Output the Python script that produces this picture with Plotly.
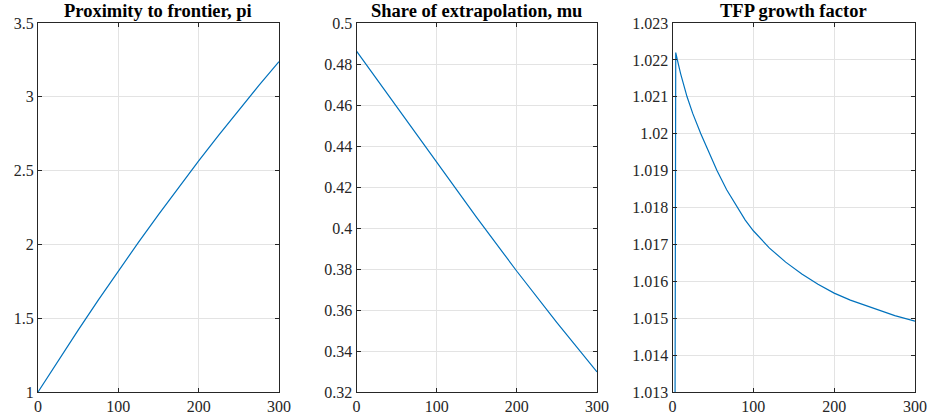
import plotly.graph_objects as go
from plotly.subplots import make_subplots

# ---- data ----
pi_t = [0, 25, 50, 75, 100, 125, 150, 175, 200, 225, 250, 275, 300]
pi_vals = [1.0, 1.212, 1.419, 1.622, 1.820, 2.014, 2.202, 2.387, 2.566, 2.741, 2.911, 3.077, 3.238]

mu_t = [0, 50, 100, 150, 200, 250, 300]
mu_vals = [0.4863, 0.4593, 0.4321, 0.4051, 0.3789, 0.3539, 0.3298]

tfp_t = [2, 4, 6, 10, 18, 25, 35, 45, 55, 67, 80, 90, 100, 110, 120, 140, 160, 180, 200,
         220, 250, 275, 300]
tfp_vals = [1.000, 1.0222, 1.0220, 1.02163, 1.0210, 1.02055, 1.0200, 1.01948, 1.0190, 1.01848,
            1.01800, 1.01766, 1.01737, 1.01712, 1.01690, 1.01652, 1.01620, 1.01592, 1.01568,
            1.01549, 1.01525, 1.01507, 1.01492]

titles = ["Proximity to frontier, pi", "Share of extrapolation, mu", "TFP growth factor"]

x_ticks = [0, 100, 200, 300]
pi_ticks = [1, 1.5, 2, 2.5, 3, 3.5]
pi_ticktext = ["1", "1.5", "2", "2.5", "3", "3.5"]
mu_ticks = [0.32, 0.34, 0.36, 0.38, 0.40, 0.42, 0.44, 0.46, 0.48, 0.50]
mu_ticktext = ["0.32", "0.34", "0.36", "0.38", "0.4", "0.42", "0.44", "0.46", "0.48", "0.5"]
tfp_ticks = [1.013, 1.014, 1.015, 1.016, 1.017, 1.018, 1.019, 1.020, 1.021, 1.022, 1.023]
tfp_ticktext = ["1.013", "1.014", "1.015", "1.016", "1.017", "1.018", "1.019", "1.02",
                "1.021", "1.022", "1.023"]

LINE = "#0072BD"
AX = "#262626"
GRID = "#e3e3e3"
FONT = "Liberation Serif, Times New Roman, DejaVu Serif, serif"

fig = make_subplots(rows=1, cols=3)

fig.add_trace(go.Scatter(x=pi_t, y=pi_vals, mode="lines", line=dict(color=LINE, width=1.2)), 1, 1)
fig.add_trace(go.Scatter(x=mu_t, y=mu_vals, mode="lines", line=dict(color=LINE, width=1.2)), 1, 2)
fig.add_trace(go.Scatter(x=tfp_t, y=tfp_vals, mode="lines", line=dict(color=LINE, width=1.2)), 1, 3)

domains = [[0.0, 0.2748], [0.3632, 0.6374], [0.7235, 1.0]]
yranges = [[1, 3.5], [0.32, 0.5], [1.013, 1.023]]
yticks = [(pi_ticks, pi_ticktext), (mu_ticks, mu_ticktext), (tfp_ticks, tfp_ticktext)]

common = dict(showline=True, linecolor=AX, linewidth=1, mirror="ticks", ticks="inside",
              ticklen=4, tickcolor=AX, showgrid=True, gridcolor=GRID, gridwidth=1,
              zeroline=False, automargin=False,
              tickfont=dict(family=FONT, size=16, color=AX))

for i in range(3):
    xa = "xaxis" if i == 0 else f"xaxis{i+1}"
    ya = "yaxis" if i == 0 else f"yaxis{i+1}"
    fig.layout[xa].update(domain=domains[i], range=[0, 300], tickvals=x_ticks, **common)
    fig.layout[ya].update(range=yranges[i], tickvals=yticks[i][0], ticktext=yticks[i][1], **common)
    fig.add_annotation(text="<b>" + titles[i] + "</b>", xref="paper", yref="paper",
                       x=(domains[i][0] + domains[i][1]) / 2, y=1.0, yshift=0,
                       xanchor="center", yanchor="bottom", showarrow=False,
                       font=dict(family=FONT, size=18.5, color="black"))

fig.update_layout(width=929, height=415, margin=dict(l=38, r=14, t=23, b=23),
                  paper_bgcolor="white", plot_bgcolor="white", showlegend=False)

# remove the default 8px page margin so the figure sits at the window's top-left corner
fig.write_html("out.html", config={"displayModeBar": False},
               post_script="document.body.style.margin='0';")
